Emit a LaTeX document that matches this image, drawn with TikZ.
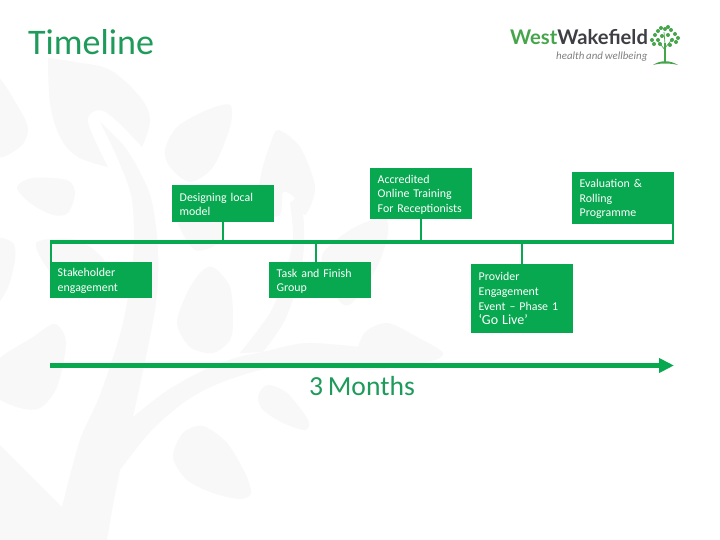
\documentclass[tikz,border=0pt]{standalone}
\usepackage{fontspec}
\setmainfont[WordSpace=0.75]{Carlito}
\newfontfamily\logofont{Lato}
\usetikzlibrary{arrows.meta}
\definecolor{mygreen}{RGB}{8,168,80}
\definecolor{mytitle}{RGB}{30,155,90}
\definecolor{mygray}{RGB}{248,248,248}
\definecolor{myleaf}{RGB}{70,165,75}
\definecolor{mydark}{RGB}{62,62,68}
\newcommand{\topgap}{\rule{0pt}{10pt}}
\tikzset{
  treeshape/.style={fill=mygray},
  greenbox/.style={fill=mygreen,text=white,anchor=north west,minimum width=102pt,text width=87pt,
    inner xsep=7.5pt,inner ysep=0pt,align=left,font=\fontsize{11.9}{14.4}\selectfont},
  busline/.style={draw=mygreen,line width=3.4pt},
  stubline/.style={draw=mygreen,line width=2pt},
  timeline/.style={draw=mygreen,line width=5pt,-{Triangle[length=15pt,width=14pt]}},
}

\begin{document}
\begin{tikzpicture}[x=1pt,y=-1pt]
  \useasboundingbox (0,0) rectangle (720,540);
  \fill[white] (0,0) rectangle (720,540);

  \begin{scope}
    \clip (0,0) rectangle (720,540);
    \fill[treeshape] plot[smooth,tension=.6] coordinates {(48,58) (75,62) (110,70) (140,97) (150,120) (142,147)}
      -- plot[smooth,tension=.6] coordinates {(142,147) (118,122) (100,110) (88,122) (108,167)}
      -- plot[smooth,tension=.6] coordinates {(108,167) (78,157) (60,137) (50,103) (48,58)} -- cycle;
    \fill[treeshape] plot[smooth] coordinates {(100,122) (127,150) (150,195) (158,250) (155,310) (133,417)}
      -- plot[smooth] coordinates {(133,417) (165,392) (200,372) (235,358) (263,352) (307,343) (370,348)}
      -- plot[smooth] coordinates {(370,352) (360,369) (300,366) (260,370) (215,385) (183,403) (150,432) (120,470)}
      -- plot[smooth] coordinates {(120,470) (113,505) (107,540)}
      -- (0,540) -- (0,445) -- (62,507)
      -- plot[smooth] coordinates {(62,507) (80,440) (100,395) (122,327) (133,260) (132,200) (117,157) (100,122)} -- cycle;
    \fill[treeshape] plot[smooth] coordinates {(290,203) (293,240) (283,280) (270,313) (240,353)}
      -- plot[smooth] coordinates {(263,352) (285,320) (300,275) (304,245) (303,215) (296,198)} -- cycle;
    \fill[treeshape] plot[smooth cycle] coordinates {(278,130) (300,147) (315,187) (305,215) (295,198) (283,192) (280,215) (262,215) (257,203) (262,170) (270,145)};
    \fill[treeshape] plot[smooth cycle] coordinates {(363,335) (387,323) (417,337) (443,353) (427,362) (360,369)};
    \fill[treeshape] plot[smooth cycle] coordinates {(230,105) (230,127) (213,167) (190,182) (170,167) (165,150) (177,127) (207,110)};
    \fill[treeshape] plot[smooth cycle] coordinates {(-5,77) (20,110) (28,130) (20,147) (-5,154)};
    \fill[treeshape] plot[smooth cycle] coordinates {(17,187) (33,178) (67,180) (75,193) (68,213) (53,215) (30,203)};
    \fill[treeshape] plot[smooth cycle] coordinates {(-5,242) (13,243) (15,260) (8,287) (-5,303)};
    \fill[treeshape] plot[smooth cycle] coordinates {(37,242) (77,240) (105,262) (90,285) (60,280) (45,265)};
    \fill[treeshape] plot[smooth cycle] coordinates {(177,215) (220,215) (222,240) (195,250)};
    \fill[treeshape] plot[smooth cycle] coordinates {(55,324) (66,343) (57,387) (40,408) (20,408) (-5,395) (-5,363) (33,337)};
    \fill[treeshape] plot[smooth cycle] coordinates {(213,267) (230,287) (233,320) (230,340) (213,353) (190,347) (177,323) (187,293) (200,273)};
    \fill[treeshape] plot[smooth cycle] coordinates {(203,426) (227,443) (245,473) (251,493) (240,499) (213,493) (187,480) (173,457) (183,433)};
    \fill[treeshape] plot[smooth cycle] coordinates {(267,385) (287,393) (308,420) (305,430) (283,423) (263,410) (258,397)};
    \fill[treeshape] plot[smooth cycle] coordinates {(323,253) (350,230) (383,217) (388,233) (377,267) (353,302) (340,302) (325,273)};
  \end{scope}

  \node[text=mytitle,font=\fontsize{36}{40}\selectfont,anchor=west,inner sep=0pt] (title) at (28,42) {Timeline};

  \node[anchor=west,inner sep=0pt,font=\logofont\bfseries\fontsize{20.2}{24}\selectfont] (logoname) at (510,37)
    {\color{myleaf}West\color{mydark}Wakefield};
  \node[anchor=west,inner sep=0pt,text=gray,font=\itshape\fontsize{10.9}{16}\selectfont] (logotag) at (556,57) {health and wellbeing};
  \draw[myleaf,line width=1.6pt] (665,62) -- (665,43);
  \draw[myleaf,line width=.7pt] (665,50) -- (657,40) (665,48) -- (673,38) (665,44) -- (664,32);
  \fill[myleaf] (653,65) .. controls (660,60) and (670,60) .. (678,65) .. controls (670,63) and (660,63) .. (653,65) -- cycle;
  \foreach \x/\y in {652/40, 655/35, 654/44, 658/31, 658/40, 661/28, 662/36, 665/29, 668/27, 668/35, 671/30, 672/40, 675/34, 676/42, 678/38, 660/44, 670/45}
    \fill[myleaf] (\x,\y) circle (2pt);

  \foreach \n/\x/\y/\h/\t in {stakeholder/50/262/36/{\topgap Stakeholder\\engagement},
    design/172/185/37/{\topgap Designing local\\model},
    task/269/262/36/{\topgap Task and Finish\\Group},
    accredited/370/168/51/{\topgap Accredited\\Online Training\\For Receptionists},
    evaluation/572/172/52/{\topgap Evaluation \&\\Rolling\\Programme},
    provider/471/264/69/{Provider\\[.4pt]Engagement\\[.4pt]Event – Phase 1\\[.4pt]{\fontsize{14}{16}\selectfont ‘Go Live’}}}
    \node[greenbox,minimum height=\h pt] (\n) at (\x,\y) {\t};

  \coordinate (busl) at (50,242);
  \coordinate (busr) at (674,242);
  \draw[busline] (busl) -- (busr);
  \draw[stubline] ([xshift=1pt]stakeholder.north west) -- ([xshift=1pt]stakeholder.north west |- busl);
  \draw[stubline] (design.south) -- (design.south |- busl);
  \draw[stubline] ([xshift=-4.3pt]task.north) -- ([xshift=-4.3pt]task.north |- busl);
  \draw[stubline] (accredited.south) -- (accredited.south |- busl);
  \draw[stubline] (provider.north) -- (provider.north |- busl);
  \draw[stubline] ([xshift=-1pt]evaluation.south east) -- ([xshift=-1pt]evaluation.south east |- busl);

  \coordinate (timestart) at (50,365.5);
  \coordinate (timeend) at (674,365.5);
  \draw[timeline] (timestart) -- (timeend);
  \node[text=mytitle,font=\fontsize{27.6}{30}\selectfont,inner sep=0pt] (months) at (362,386) {3 Months};
\end{tikzpicture}
\end{document}
